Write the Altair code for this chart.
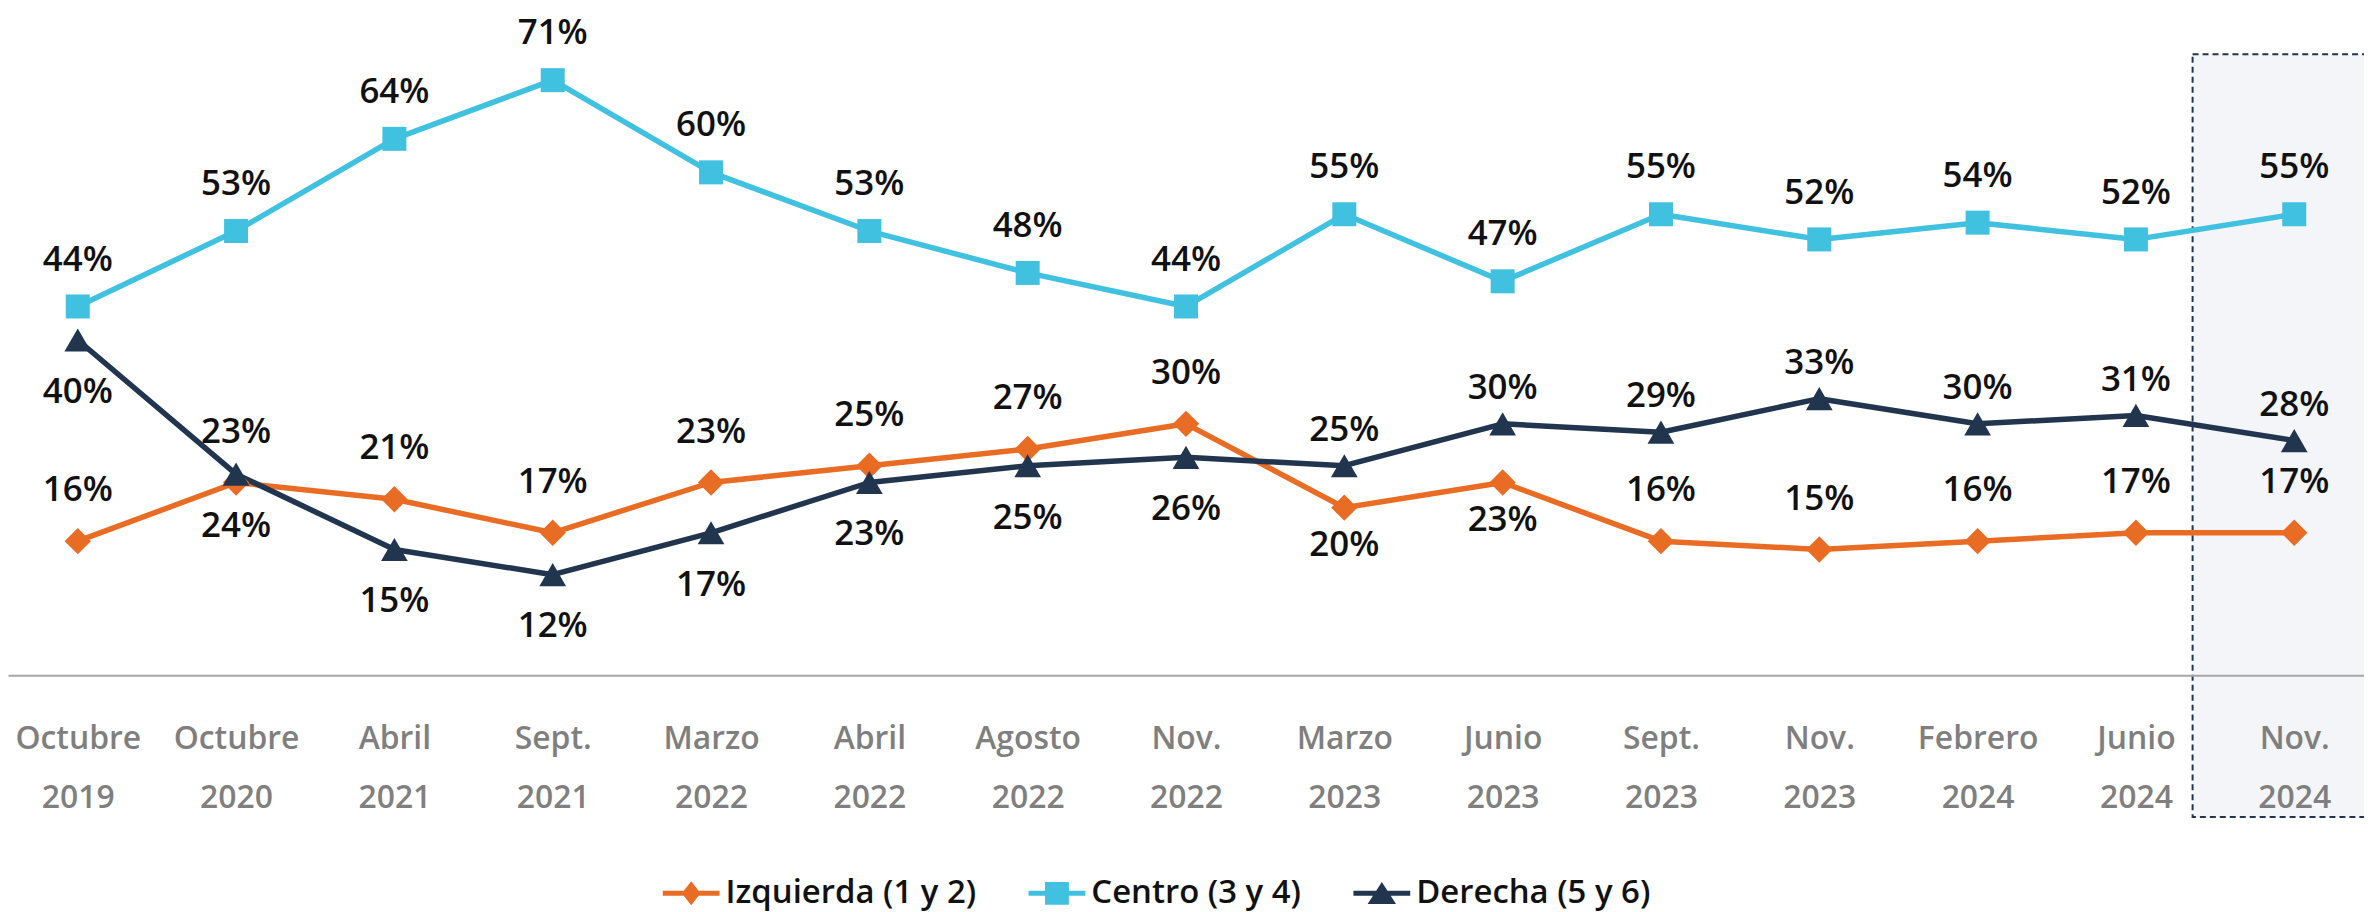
import altair as alt
import pandas as pd

# ---------------- datos ----------------
meses = ["Octubre", "Octubre", "Abril", "Sept.", "Marzo", "Abril", "Agosto", "Nov.",
         "Marzo", "Junio", "Sept.", "Nov.", "Febrero", "Junio", "Nov."]
anios = ["2019", "2020", "2021", "2021", "2022", "2022", "2022", "2022",
         "2023", "2023", "2023", "2023", "2024", "2024", "2024"]

izquierda = [16, 23, 21, 17, 23, 25, 27, 30, 20, 23, 16, 15, 16, 17, 17]
centro = [44, 53, 64, 71, 60, 53, 48, 44, 55, 47, 55, 52, 54, 52, 55]
derecha = [40, 24, 15, 12, 17, 23, 25, 26, 25, 30, 29, 33, 30, 31, 28]

# lado de la etiqueta de cada punto
lado_izquierda = ["arriba"] * 8 + ["abajo", "abajo"] + ["arriba"] * 5
lado_centro = ["arriba"] * 15
lado_derecha = ["abajo"] * 8 + ["arriba"] * 7

series = ["Izquierda (1 y 2)", "Centro (3 y 4)", "Derecha (5 y 6)"]

# ---------------- estilo ----------------
colores = ["#E96C25", "#41C1E0", "#22354F"]
formas = ["diamond", "square", "triangle-up"]
tamanos = [700, 580, 720]
formas_leyenda = [
    "M-1,-0.09L1,-0.09L1,0.09L-1,0.09Z M0,-0.42L0.33,0L0,0.42L-0.33,0Z",
    "M-1,-0.09L1,-0.09L1,0.09L-1,0.09Z M-0.42,-0.4L0.42,-0.4L0.42,0.4L-0.42,0.4Z",
    "M-1,-0.09L1,-0.09L1,0.09L-1,0.09Z M0,-0.4L0.5,0.38L-0.5,0.38Z",
]
desfase_px = {
    (series[0], "arriba"): -51, (series[0], "abajo"): 38,
    (series[1], "arriba"): -47, (series[1], "abajo"): 52,
    (series[2], "arriba"): -36, (series[2], "abajo"): 52,
}

W, H, YMAX = 2364, 656, 78
PX = H / YMAX

categorias = [f"{m} {a}" for m, a in zip(meses, anios)]

filas = []
for s, vals, lados in zip(series, [izquierda, centro, derecha],
                          [lado_izquierda, lado_centro, lado_derecha]):
    for c, v, l in zip(categorias, vals, lados):
        filas.append({
            "periodo": c, "serie": s, "valor": v, "etiqueta": f"{v}%",
            "y_etiqueta": v - desfase_px[(s, l)] / PX,
        })
df = pd.DataFrame(filas)

destacado = pd.DataFrame({"periodo": [categorias[-1]], "arriba": [74.1], "abajo": [-16.9]})

x_enc = alt.X(
    "periodo:N", sort=categorias,
    scale=alt.Scale(type="point", padding=0.4406),
    axis=alt.Axis(
        title=None, labelExpr="split(datum.label, ' ')", labelAngle=0,
        labelFont="Open Sans", labelFontSize=32, labelFontWeight=600,
        labelColor="#7F7F7F", labelLineHeight=60, labelPadding=48,
        ticks=False, grid=False, domainColor="#A6A6A6", domainWidth=2,
        labelOverlap=False, zindex=1,
    ),
)
y_scale = alt.Scale(domain=[0, YMAX], nice=False, zero=True)
color_scale = alt.Scale(domain=series, range=colores)

leg = alt.Legend(
    orient="none", legendX=657, legendY=846, direction="horizontal", title=None,
    labelFont="Open Sans", labelFontSize=33, labelFontWeight=600,
    labelColor="#111111", labelLimit=0, symbolSize=3249, symbolStrokeWidth=0,
    symbolOpacity=1, labelOffset=6, columnPadding=52,
)

# capa invisible que solo aporta la leyenda (línea + marcador)
leyenda = alt.Chart(df).mark_point(filled=True, opacity=0).encode(
    x=x_enc,
    y=alt.Y("valor:Q", scale=y_scale, axis=None),
    color=alt.Color("serie:N", scale=color_scale, legend=leg),
    shape=alt.Shape("serie:N", scale=alt.Scale(domain=series, range=formas_leyenda), legend=leg),
)

caja = alt.Chart(destacado).mark_bar(
    width=204, fill="#F3F5F9", stroke="#22354F", strokeDash=[6, 4], strokeWidth=2
).encode(
    x=x_enc,
    y=alt.Y("arriba:Q", scale=y_scale, axis=None),
    y2="abajo:Q",
)

lineas = alt.Chart(df).mark_line(strokeWidth=5.5, strokeJoin="round").encode(
    x=x_enc,
    y=alt.Y("valor:Q", scale=y_scale, axis=None),
    color=alt.Color("serie:N", scale=color_scale),
)

puntos = []
for s, f, t in zip(series, formas, tamanos):
    puntos.append(
        alt.Chart(df).transform_filter(alt.datum.serie == s)
        .mark_point(shape=f, filled=True, size=t, opacity=1)
        .encode(
            x=x_enc,
            y=alt.Y("valor:Q", scale=y_scale, axis=None),
            color=alt.Color("serie:N", scale=color_scale),
        )
    )

etiquetas = alt.Chart(df).mark_text(
    font="Open Sans", fontSize=35, fontWeight=600, color="#111111",
    baseline="middle", align="center",
).encode(
    x=x_enc,
    y=alt.Y("y_etiqueta:Q", scale=y_scale, axis=None),
    text="etiqueta:N",
)

chart = alt.layer(leyenda, caja, lineas, *puntos, etiquetas).properties(
    width=W, height=H,
    autosize=alt.AutoSizeParams(type="none"),
    padding={"left": 0, "top": 12, "right": 0, "bottom": 236},
    background="white",
).configure_view(stroke=None)

chart.save("out.html", embed_options={"renderer": "svg", "actions": False})
